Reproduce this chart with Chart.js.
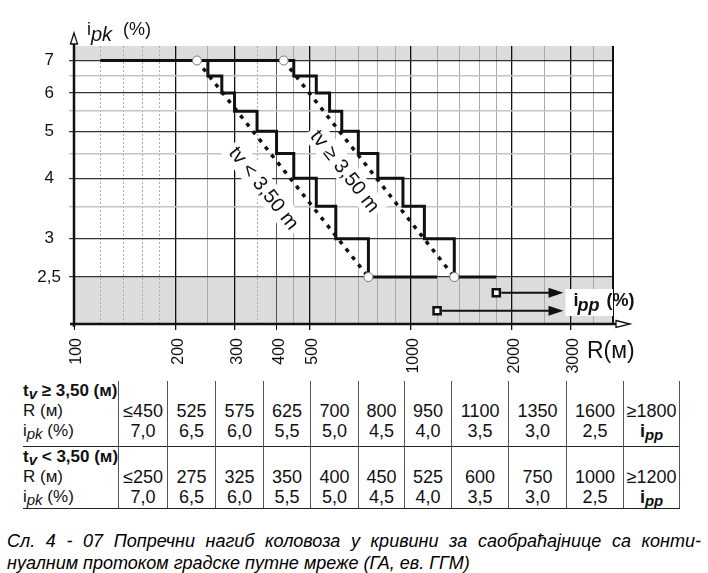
<!DOCTYPE html>
<html>
<head>
<meta charset="utf-8">
<script src="https://cdn.jsdelivr.net/npm/chart.js@4/dist/chart.umd.min.js"></script>
<style>
  body { margin:0; width:708px; height:573px; position:relative; overflow:hidden; background:#fff;
         font-family:'Liberation Sans', Arial, sans-serif; color:#111; }
  #c { position:absolute; left:0; top:0; }
  #tbl { position:absolute; left:23px; top:381px; border-collapse:collapse; table-layout:fixed; font-size:18px; }
  #tbl td { padding:0; height:20px; line-height:20px; text-align:center; vertical-align:top;
            border-left:1.5px solid #555; white-space:nowrap; overflow:visible; }
  #tbl td.h { border-left:none; text-align:left; font-size:17px; }
  #tbl td.last { border-right:1.5px solid #555; }
  #tbl tr.sep td { border-top:1.5px solid #222; }
  #tbl tr.end td { border-bottom:1.5px solid #222; }
  #tbl tr.tall td { height:25px; }
  .sb { font-style:italic; font-size:15px; position:relative; top:3px; }
  #cap { position:absolute; left:7px; top:530px; width:694px; font-style:italic; font-size:18px; line-height:22px; color:#000; }
  #cap .l1 { text-align:justify; text-align-last:justify; }
</style>
</head>
<body>
<canvas id="c" width="708" height="380"></canvas>
<table id="tbl"></table>
<div id="cap">
  <div class="l1">Сл. 4 - 07 Попречни нагиб коловоза у кривини за саобраћајнице са конти-</div>
  <div>нуалним протоком градске путне мреже (ГА, ев. ГГМ)</div>
</div>
<script>
// axis ticks / grid
const xTickLabels = [100, 200, 300, 400, 500, 1000, 2000, 3000];
const xGridValues = [100, 120, 140, 160, 180, 200, 250, 300, 350, 400, 450, 500, 600, 700, 800, 900,
                     1000, 1200, 1400, 1600, 1800, 2000, 2500, 3000, 3500, 4000];
const yTickLabels = [2.5, 3, 4, 5, 6, 7];
const yGridValues = [2, 2.5, 3, 3.5, 4, 4.5, 5, 5.5, 6, 6.5, 7, 7.5];

// step curves as drawn in the diagram
const stepWideR = [120, 450, 525, 575, 625, 700, 800, 950, 1100, 1350, 1800];
const stepWideI = [7, 6.5, 6, 5.5, 5, 4.5, 4, 3.5, 3, 2.5, 2.5];
const stepNarrowR = [120, 250, 275, 300, 350, 400, 450, 525, 600, 750, 1200];
const stepNarrowI = [7, 6.5, 6, 5.5, 5, 4.5, 4, 3.5, 3, 2.5, 2.5];

// dashed trend lines (circle to circle)
const trendWideR = [420, 1350];
const trendWideI = [7, 2.5];
const trendNarrowR = [232, 750];
const trendNarrowI = [7, 2.5];

// i_pp arrows
const ippR = [1800, 1200];
const ippI = [2.32, 2.13];
const ippArrowTipR = 2850;

// shaded bands
const bandLow = [2, 2.5];
const bandHigh = [7, 7.5];

// table values
const tableWideR = [450, 525, 575, 625, 700, 800, 950, 1100, 1350, 1600, 1800];
const tableWideI = [7.0, 6.5, 6.0, 5.5, 5.0, 4.5, 4.0, 3.5, 3.0, 2.5];
const tableNarrowR = [250, 275, 325, 350, 400, 450, 525, 600, 750, 1000, 1200];
const tableNarrowI = [7.0, 6.5, 6.0, 5.5, 5.0, 4.5, 4.0, 3.5, 3.0, 2.5];

const FAM = "'Liberation Sans', Arial, sans-serif";
Chart.defaults.font.family = FAM;
Chart.defaults.color = '#111';

const pts = (xs, ys) => xs.map((v, i) => ({ x: v, y: ys[i] }));
const comma = v => v.toFixed(1).replace('.', ',');
const xMajor = [200, 300, 500, 1000, 2000, 3000];

// ---------- table ----------
const colW = [94, 49, 48, 48, 47, 48, 46, 47, 57, 58, 57, 56];
const ipkHtml = 'i<span class="sb">pk</span> (%)';
const ippHtml = '<b>i<span class="sb" style="font-weight:bold">pp</span></b>';

function section(title, rs, is, first) {
  const n = rs.length;
  const cell = (html, j) => `<td class="${j === n - 1 ? 'last' : ''}">${html}</td>`;
  let h = `<tr class="${first ? '' : 'sep'}"><td class="h"><b>${title}</b></td>` +
          rs.map((r, j) => cell('', j)).join('') + '</tr>';
  h += '<tr><td class="h">R (м)</td>' +
       rs.map((r, j) => cell((j === 0 ? '≤' : j === n - 1 ? '≥' : '') + r, j)).join('') + '</tr>';
  h += `<tr class="${first ? 'tall' : 'end'}"><td class="h">${ipkHtml}</td>` +
       rs.map((r, j) => cell(j < is.length ? comma(is[j]) : ippHtml, j)).join('') + '</tr>';
  return h;
}
document.getElementById('tbl').innerHTML =
  '<colgroup>' + colW.map(w => `<col style="width:${w}px">`).join('') + '</colgroup>' +
  section('t<span class="sb" style="font-weight:bold">v</span> ≥ 3,50 (м)', tableWideR, tableWideI, true) +
  section('t<span class="sb" style="font-weight:bold">v</span> &lt; 3,50 (м)', tableNarrowR, tableNarrowI, false);

// ---------- chart ----------
const trendLabels = [
  { text: 'tv < 3,50 m', r: 367, i: 3.82, line: [trendNarrowR, trendNarrowI] },
  { text: 'tv ≥ 3,50 m', r: 640, i: 4.14, line: [trendWideR, trendWideI] }
];

const overlay = {
  id: 'overlay',
  beforeDraw(chart) {
    const { ctx, chartArea: a, scales: { y } } = chart;
    ctx.save();
    ctx.fillStyle = '#dcdcdc';
    [bandLow, bandHigh].forEach(([lo, hi]) => {
      const y1 = y.getPixelForValue(hi), y2 = y.getPixelForValue(lo);
      ctx.fillRect(a.left, y1, a.right - a.left, y2 - y1);
    });
    ctx.restore();
  },
  beforeDatasetsDraw(chart) {
    const { ctx, scales: { x, y } } = chart;
    trendLabels.forEach(l => {
      const [rs, is] = l.line;
      const ang = Math.atan2(y.getPixelForValue(is[1]) - y.getPixelForValue(is[0]),
                             x.getPixelForValue(rs[1]) - x.getPixelForValue(rs[0]));
      ctx.save();
      ctx.translate(x.getPixelForValue(l.r), y.getPixelForValue(l.i));
      ctx.rotate(ang);
      ctx.font = '20px ' + FAM;
      const w = ctx.measureText(l.text).width;
      ctx.fillStyle = '#fff';
      ctx.fillRect(-w / 2 - 4, -12, w + 8, 24);
      ctx.fillStyle = '#111';
      ctx.textAlign = 'center';
      ctx.textBaseline = 'middle';
      ctx.fillText(l.text, 0, 1);
      ctx.restore();
    });
  },
  afterDatasetsDraw(chart) {
    const { ctx, chartArea: a, scales: { x, y } } = chart;
    ctx.save();
    ctx.strokeStyle = '#111';
    ctx.fillStyle = '#111';
    // right border
    ctx.lineWidth = 2;
    ctx.beginPath(); ctx.moveTo(a.right, a.top); ctx.lineTo(a.right, a.bottom); ctx.stroke();
    // arrows to i_pp
    const tip = x.getPixelForValue(ippArrowTipR);
    ippR.forEach((r, k) => {
      const px = x.getPixelForValue(r) + 5, py = y.getPixelForValue(ippI[k]);
      ctx.lineWidth = 2;
      ctx.beginPath(); ctx.moveTo(px, py); ctx.lineTo(tip - 12, py); ctx.stroke();
      ctx.beginPath(); ctx.moveTo(tip, py); ctx.lineTo(tip - 15, py - 5); ctx.lineTo(tip - 15, py + 5);
      ctx.closePath(); ctx.fill();
    });
    // axes with open arrow heads
    ctx.lineWidth = 2.5;
    ctx.beginPath(); ctx.moveTo(a.left, a.bottom + 3); ctx.lineTo(a.left, a.top - 2); ctx.stroke();
    ctx.beginPath(); ctx.moveTo(a.left - 4, a.bottom); ctx.lineTo(a.right + 3, a.bottom); ctx.stroke();
    ctx.lineWidth = 1.3;
    ctx.fillStyle = '#fff';
    ctx.beginPath(); ctx.moveTo(a.left - 3.5, a.top - 2); ctx.lineTo(a.left, a.top - 13);
    ctx.lineTo(a.left + 3.5, a.top - 2); ctx.closePath(); ctx.fill(); ctx.stroke();
    ctx.beginPath(); ctx.moveTo(a.right + 3, a.bottom - 3.5); ctx.lineTo(a.right + 17, a.bottom);
    ctx.lineTo(a.right + 3, a.bottom + 3.5); ctx.closePath(); ctx.fill(); ctx.stroke();
    // i_pp label
    const lx = x.getPixelForValue(2950), ly = y.getPixelForValue(2.22);
    ctx.fillStyle = '#fff';
    ctx.fillRect(lx - 3, ly - 13, a.right - lx + 3, 27);
    ctx.fillStyle = '#111';
    ctx.font = 'bold 18px ' + FAM; ctx.fillText('i', lx + 5, ly + 4);
    ctx.font = 'bold italic 18px ' + FAM; ctx.fillText('pp', lx + 9, ly + 9);
    ctx.font = 'bold 18px ' + FAM; ctx.fillText('(%)', lx + 38, ly + 4);
    // axis titles
    ctx.font = '18px ' + FAM; ctx.fillText('i', 87, 35);
    ctx.font = 'italic 20px ' + FAM; ctx.fillText('pk', 91, 41);
    ctx.font = '18px ' + FAM; ctx.fillText('(%)', 123, 35);
    ctx.font = '23px ' + FAM; ctx.fillText('R(м)', 587, 358);
    ctx.restore();
  }
};

const stepStyle = { borderColor: '#111', borderWidth: 3, pointRadius: 0, stepped: true, fill: false };
const trendStyle = {
  borderColor: '#111', borderWidth: 3.5, borderDash: [4, 6], fill: false,
  pointRadius: 4.5, pointBackgroundColor: '#fff', pointBorderColor: '#777', pointBorderWidth: 1
};

new Chart(document.getElementById('c'), {
  type: 'line',
  data: {
    datasets: [
      { label: 'ipp', data: pts(ippR, ippI), showLine: false, pointStyle: 'rect', pointRadius: 5,
        pointBackgroundColor: '#fff', pointBorderColor: '#111', pointBorderWidth: 2.5 },
      { label: 'trend tv < 3,50', data: pts(trendNarrowR, trendNarrowI), ...trendStyle },
      { label: 'trend tv ≥ 3,50', data: pts(trendWideR, trendWideI), ...trendStyle },
      { label: 'tv < 3,50', data: pts(stepNarrowR, stepNarrowI), ...stepStyle },
      { label: 'tv ≥ 3,50', data: pts(stepWideR, stepWideI), ...stepStyle }
    ]
  },
  options: {
    responsive: false,
    animation: false,
    layout: { padding: { top: 46, right: 95, left: 0, bottom: 0 } },
    plugins: { legend: { display: false }, tooltip: { enabled: false } },
    scales: {
      x: {
        type: 'logarithmic', min: 100, max: 4000,
        afterBuildTicks: s => { s.ticks = xGridValues.map(v => ({ value: v })); },
        afterFit: s => { s.height = 56; },
        ticks: {
          autoSkip: false, minRotation: 90, maxRotation: 90, padding: 8, labelOffset: 3,
          font: { size: 16 }, color: '#111',
          callback: v => xTickLabels.includes(v) ? String(v) : ''
        },
        grid: {
          tickLength: 6,
          color: c => {
            const v = c.tick.value;
            if (v === 100 || v === 4000) return 'rgba(0,0,0,0)';
            if (xMajor.includes(v)) return '#111';
            if (v === 400) return '#555';
            return '#aaa';
          },
          tickColor: c => xTickLabels.includes(c.tick.value) ? '#111' : 'rgba(0,0,0,0)',
          lineWidth: c => xMajor.includes(c.tick.value) ? 1.3 : 1
        },
        border: { display: false, dash: c => (c.tick && (c.tick.value < 200 || c.tick.value === 350)) ? [2, 2] : [] }
      },
      y: {
        type: 'logarithmic', min: 2, max: 7.5,
        afterBuildTicks: s => { s.ticks = yGridValues.map(v => ({ value: v })); },
        afterFit: s => { s.width = 74; },
        ticks: {
          autoSkip: false, padding: 8, crossAlign: 'center', font: { size: 17 }, color: '#111',
          callback: v => yTickLabels.includes(v) ? String(v).replace('.', ',') : ''
        },
        grid: {
          tickLength: 5,
          color: c => {
            const v = c.tick.value;
            if (v === 2 || v === 7.5) return 'rgba(0,0,0,0)';
            return yTickLabels.includes(v) ? '#333' : '#c4c4c4';
          },
          lineWidth: c => yTickLabels.includes(c.tick.value) ? 1.2 : 1.5
        },
        border: { display: false }
      }
    }
  },
  plugins: [overlay]
});
</script>
</body>
</html>
